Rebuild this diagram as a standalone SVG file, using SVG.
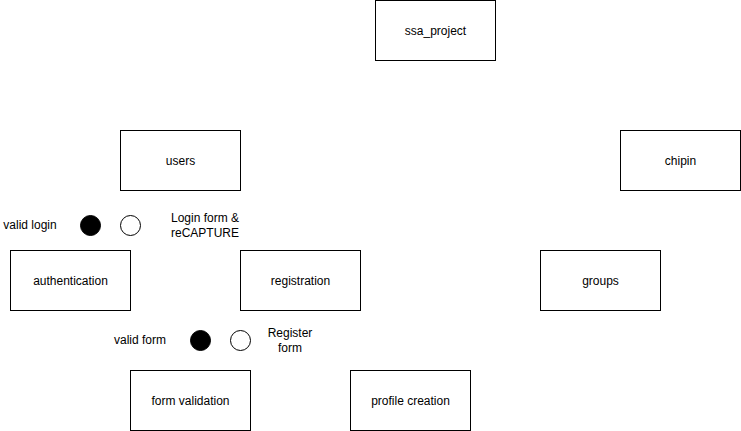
<svg xmlns="http://www.w3.org/2000/svg" width="741" height="431" viewBox="0 0 741 431">
<style>
.box{fill:#fff;stroke:#000;stroke-width:1}
text{font-family:"Liberation Sans",Arial,sans-serif;font-size:12px;fill:#000;text-anchor:middle;dominant-baseline:central}
.on{fill:#000;stroke:#000}
.off{fill:#fff;stroke:#000}
</style>
<rect width="741" height="431" fill="#fff"/>
<g id="ssa_project"><rect class="box" x="375.5" y="0.5" width="120" height="60"/><text x="435.5" y="30.5">ssa_project</text></g>
<g id="users"><rect class="box" x="120.5" y="130.5" width="120" height="60"/><text x="180.5" y="160.5">users</text></g>
<g id="chipin"><rect class="box" x="620.5" y="130.5" width="120" height="60"/><text x="680.5" y="160.5">chipin</text></g>
<g id="authentication"><rect class="box" x="10.5" y="250.5" width="120" height="60"/><text x="70.5" y="280.5">authentication</text></g>
<g id="registration"><rect class="box" x="240.5" y="250.5" width="120" height="60"/><text x="300.5" y="280.5">registration</text></g>
<g id="groups"><rect class="box" x="540.5" y="250.5" width="120" height="60"/><text x="600.5" y="280.5">groups</text></g>
<g id="form_validation"><rect class="box" x="130.5" y="370.5" width="120" height="60"/><text x="190.5" y="400.5">form validation</text></g>
<g id="profile_creation"><rect class="box" x="350.5" y="370.5" width="120" height="60"/><text x="410.5" y="400.5">profile creation</text></g>
<g id="login_state">
<text x="30" y="225">valid login</text>
<circle class="on" cx="90.5" cy="225.5" r="10"/>
<circle class="off" cx="130.5" cy="225.5" r="10"/>
<text x="205" y="218">Login form &amp;</text>
<text x="205" y="233">reCAPTURE</text>
</g>
<g id="form_state">
<text x="140" y="340">valid form</text>
<circle class="on" cx="200.5" cy="340.5" r="10"/>
<circle class="off" cx="240.5" cy="340.5" r="10"/>
<text x="290" y="333">Register</text>
<text x="290" y="348">form</text>
</g>
<g id="connectors"></g>
</svg>
